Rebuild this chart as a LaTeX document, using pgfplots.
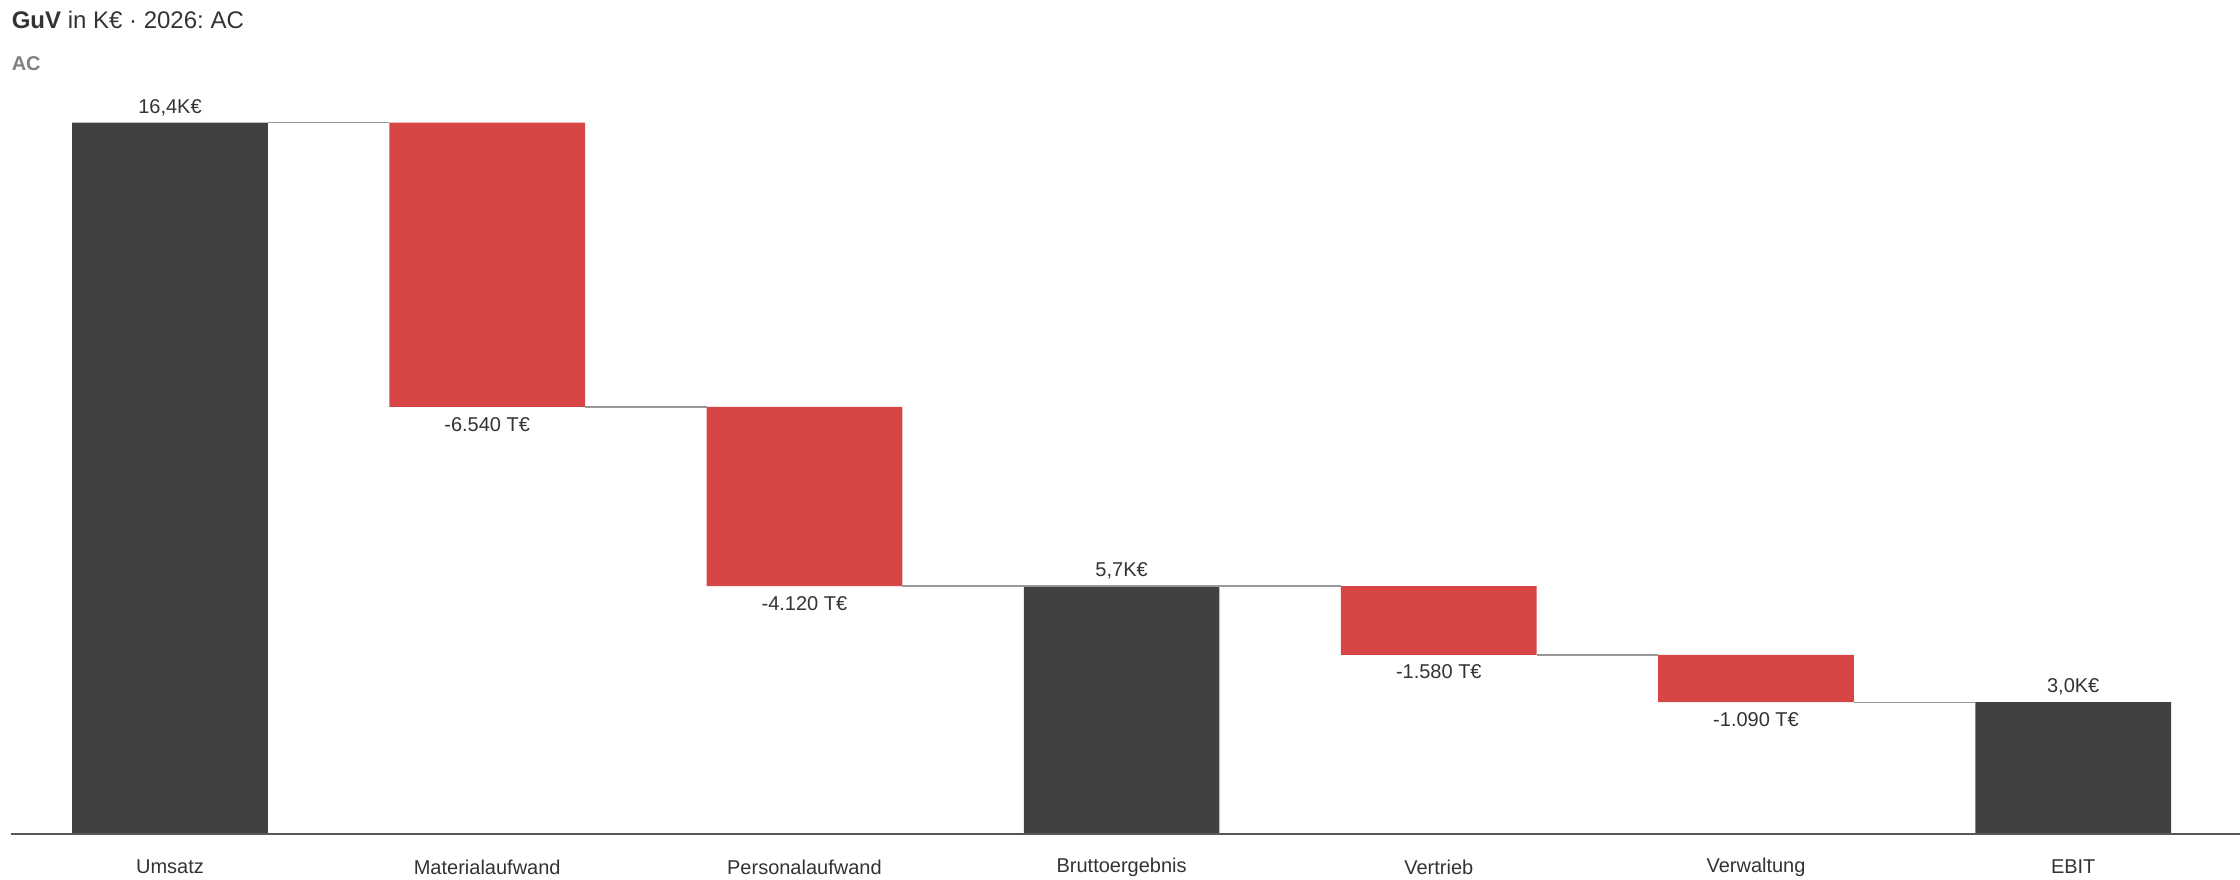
\documentclass[border=0pt]{standalone}
\usepackage{fontspec}
\setmainfont{Liberation Sans}
\usepackage{pgfplots}
\pgfplotsset{compat=1.18}
\frenchspacing
\definecolor{barDark}{HTML}{414141}
\definecolor{barRed}{HTML}{D74644}
\definecolor{txt}{HTML}{333333}
\definecolor{conn}{HTML}{999999}
\pgfplotsset{wf/.style={
  at={(5.7bp,23bp)}, anchor=south west,
  scale only axis, width=1114.3bp, height=391.4bp,
  xmin=-0.5, xmax=6.526, ymin=0, ymax=18000, clip=false}}
\begin{document}
\frenchspacing
\begin{tikzpicture}
\path[use as bounding box] (0,0) rectangle (1120bp,440bp);
% bars
\begin{axis}[wf, axis lines=none, ybar stacked, bar width=0.617]
\addplot[draw=none, fill=none] coordinates {(0,0) (1,9820) (2,5700) (3,0) (4,4120) (5,3030) (6,0)};
\addplot[draw=none, fill=barDark] coordinates {(0,16360) (1,0) (2,0) (3,5700) (4,0) (5,0) (6,3030)};
\addplot[draw=none, fill=barRed] coordinates {(0,0) (1,6540) (2,4120) (3,0) (4,1580) (5,1090) (6,0)};
\end{axis}
% axis line, connectors, labels
\begin{axis}[wf, axis x line=bottom, axis y line=none,
  axis line style={-, draw=black!66, line width=1.3bp},
  xtick={0,1,2,3,4,5,6}, major tick length=0pt,
  xticklabels={Umsatz,Materialaufwand,Personalaufwand,Bruttoergebnis,Vertrieb,Verwaltung,EBIT},
  x tick label style={anchor=center, yshift=-16.5bp, inner sep=0pt, text=txt, font=\fontsize{10bp}{12bp}\selectfont}]
\addplot[conn, line width=0.7bp, unbounded coords=jump, mark=none] coordinates {
 (0.3085,16360) (0.6915,16360) (0.5,nan)
 (1.3085,9820) (1.6915,9820) (1.5,nan)
 (2.3085,5700) (3.6915,5700) (3.5,nan)
 (4.3085,4120) (4.6915,4120) (4.5,nan)
 (5.3085,3030) (5.6915,3030)};
\addplot[only marks, mark=none, point meta=explicit symbolic, nodes near coords,
  nodes near coords style={anchor=center, yshift=7.6bp, inner sep=0pt, text=txt, font=\fontsize{10bp}{12bp}\selectfont}]
  coordinates {(0,16360) [16,4K€] (3,5700) [5,7K€] (6,3030) [3,0K€]};
\addplot[only marks, mark=none, point meta=explicit symbolic, nodes near coords,
  nodes near coords style={anchor=center, yshift=-8.6bp, inner sep=0pt, text=txt, font=\fontsize{10bp}{12bp}\selectfont}]
  coordinates {(1,9820) [-6.540 T€] (2,5700) [-4.120 T€] (4,4120) [-1.580 T€] (5,3030) [-1.090 T€]};
\end{axis}
\node[anchor=west, inner sep=0pt, text=txt, font=\fontsize{12bp}{14bp}\selectfont] at (5.7bp,430bp) {\textbf{GuV} in K€ · 2026: AC};
\node[anchor=west, inner sep=0pt, text=black!50, font=\fontsize{10bp}{12bp}\selectfont\bfseries] at (5.7bp,408bp) {AC};
\end{tikzpicture}
\end{document}
